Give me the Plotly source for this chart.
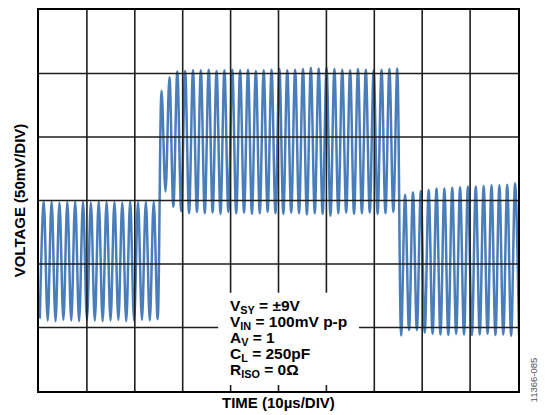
import plotly.graph_objects as go

# ---- data (time in µs, voltage in divisions of 50 mV) ----
cycle_period_us = 1.64          # one cycle of the input sine
first_trough_us = 0.17          # time of the first trough at the left edge

# segment 1 (before the input step): troughs m = 0..15, peaks n = 0..14
seg1_troughs = [1.14, 1.11, 1.10, 1.12, 1.11, 1.10, 1.12, 1.11, 1.10, 1.11, 1.12, 1.10, 1.11, 1.12, 1.11, 1.13]
seg1_peaks = [2.98, 2.99, 2.97, 2.98, 2.99, 2.98, 2.97, 2.99, 2.98, 2.98, 2.97, 2.99, 2.98, 2.98, 2.98]

# segment 2 (after the positive step): troughs m = 16..45, peaks n = 15..45
seg2_troughs = [3.14, 2.90, 2.83, 2.80, 2.82, 2.80, 2.81, 2.79, 2.82, 2.80, 2.81, 2.79, 2.80, 2.82, 2.80,
                2.79, 2.81, 2.80, 2.78, 2.80, 2.79, 2.76, 2.80, 2.81, 2.79, 2.80, 2.81, 2.79, 2.80, 2.82]
seg2_peaks = [4.73, 4.94, 5.03, 5.04, 5.05, 5.05, 5.06, 5.04, 5.05, 5.06, 5.05, 5.06, 5.04, 5.05, 5.06, 5.07,
              5.05, 5.06, 5.07, 5.09, 5.08, 5.09, 5.07, 5.06, 5.05, 5.07, 5.06, 5.05, 5.06, 5.07, 5.08]

# segment 3 (after the negative step): troughs m = 46..61, peaks n = 46..60
seg3_troughs = [0.875, 0.96, 0.96, 0.92, 0.90, 0.89, 0.88, 0.90, 0.89, 0.88, 0.89, 0.90, 0.88, 0.89, 0.87, 0.88]
seg3_peaks = [3.09, 3.13, 3.15, 3.17, 3.19, 3.19, 3.20, 3.21, 3.22, 3.22, 3.23, 3.24, 3.24, 3.25, 3.27]

x_grid_us = [10, 20, 30, 40, 50, 60, 70, 80, 90]
y_grid_div = [1, 2, 3, 4, 5]

notes = ["V<sub>SY</sub> = ±9V", "V<sub>IN</sub> = 100mV p-p", "A<sub>V</sub> = 1",
         "C<sub>L</sub> = 250pF", "R<sub>ISO</sub> = 0Ω"]

# ---- build the trace: alternating troughs and peaks ----
troughs = seg1_troughs + seg2_troughs + seg3_troughs
peaks = seg1_peaks + seg2_peaks + seg3_peaks
half = cycle_period_us / 2
t, v = [], []
for m, tr in enumerate(troughs):
    t.append(first_trough_us + m * cycle_period_us)
    v.append(tr)
    if m < len(peaks):
        t.append(first_trough_us + m * cycle_period_us + half)
        v.append(peaks[m])

fig = go.Figure()
fig.add_trace(go.Scatter(x=t, y=v, mode="lines",
                         line=dict(color="#4a7ebb", width=2.5, shape="spline", smoothing=1.0),
                         hoverinfo="skip", showlegend=False))

grid_col = "#1e1e1e"
shapes = []
for gx in x_grid_us:
    shapes.append(dict(type="line", xref="x", yref="paper", x0=gx, x1=gx, y0=0, y1=1,
                       line=dict(color=grid_col, width=1.6), layer="above"))
for gy in y_grid_div:
    shapes.append(dict(type="line", xref="paper", yref="y", x0=0, x1=1, y0=gy, y1=gy,
                       line=dict(color=grid_col, width=1.6), layer="above"))
# white box behind the conditions text
shapes.append(dict(type="rect", xref="paper", yref="paper", x0=0.374, x1=0.668, y0=0.016, y1=0.258,
                   fillcolor="white", line=dict(width=0), layer="above"))

FONT = "Liberation Sans, Arial, sans-serif"
annotations = []
note_y = [0.2214, 0.1797, 0.138, 0.0971, 0.0547]
for txt, ny in zip(notes, note_y):
    annotations.append(dict(text="<b>" + txt + "</b>", xref="paper", yref="paper", x=0.3946, y=ny,
                            xanchor="left", yanchor="middle", showarrow=False,
                            font=dict(family=FONT, size=15.5, color="black")))
annotations.append(dict(text="<b>TIME (10µs/DIV)</b>", xref="paper", yref="paper", x=0.5, y=-0.031,
                        xanchor="center", yanchor="middle", showarrow=False,
                        font=dict(family=FONT, size=15, color="black")))
annotations.append(dict(text="<b>VOLTAGE (50mV/DIV)</b>", xref="paper", yref="paper", x=-0.040, y=0.5,
                        xanchor="center", yanchor="middle", textangle=-90, showarrow=False,
                        font=dict(family=FONT, size=15, color="black")))
annotations.append(dict(text="11366-085", xref="paper", yref="paper", x=1.033, y=0.03,
                        xanchor="center", yanchor="middle", textangle=-90, showarrow=False,
                        font=dict(family=FONT, size=9.5, color="#555555")))

# the page body keeps an 8 px default margin, so the figure is sized to fit inside it
fig.update_layout(
    width=538, height=407,
    margin=dict(l=31, r=28, t=0, b=24),
    paper_bgcolor="white", plot_bgcolor="white",
    shapes=shapes, annotations=annotations,
    xaxis=dict(range=[0, 100], showgrid=False, zeroline=False, showticklabels=False, ticks="",
               showline=True, mirror=True, linecolor="black", linewidth=2.4, layer="above traces",
               fixedrange=True),
    yaxis=dict(range=[0, 6], showgrid=False, zeroline=False, showticklabels=False, ticks="",
               showline=True, mirror=True, linecolor="black", linewidth=2.4, layer="above traces",
               fixedrange=True),
)

fig.write_html("out.html", config={"displayModeBar": False})
